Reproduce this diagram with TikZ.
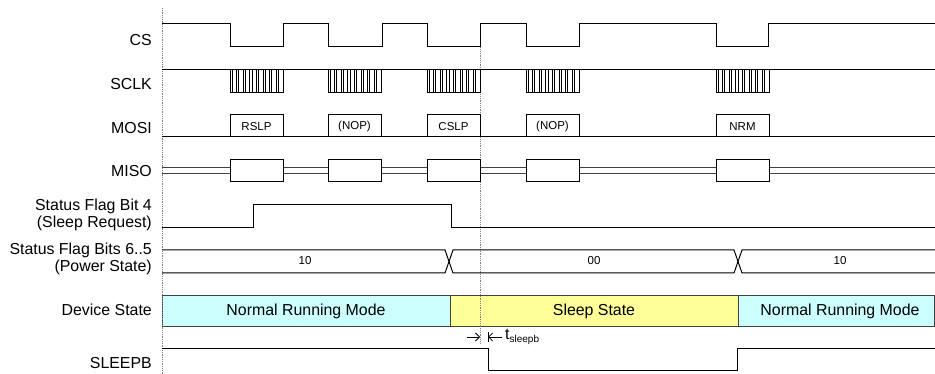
\documentclass[tikz,border=0pt]{standalone}
\usepackage{fontspec}
\setmainfont{Liberation Sans}
\usetikzlibrary{arrows.meta}
\definecolor{cyanfill}{HTML}{CCFFFF}
\definecolor{yelfill}{HTML}{FFFF99}
\definecolor{edge}{HTML}{404040}
\begin{document}
\begin{tikzpicture}[x=1pt,y=-1pt,
  sig/.style={line width=1pt, black},
  sigg/.style={line width=1pt, edge},
  gridline/.style={densely dotted, gray, line width=0.8pt},
  lbl/.style={anchor=east, align=right, font=\fontsize{15.9}{16.5}\selectfont, inner sep=0pt},
  small/.style={font=\fontsize{11.5}{12}\selectfont, inner sep=0pt},
  big/.style={font=\fontsize{15.9}{16}\selectfont, inner sep=0pt},
  clk/.style={line width=0.7pt, black}]
\useasboundingbox (0,0) rectangle (935,374);

% labels
\node[lbl] (lcs) at (152,40) {CS};
\node[lbl] (lsclk) at (152,84) {SCLK};
\node[lbl] (lmosi) at (152,128) {MOSI};
\node[lbl] (lmiso) at (152,171) {MISO};
\node[lbl] (lsf4) at (152,215) {Status Flag Bit 4\\(Sleep Request)};
\node[lbl] (lsf65) at (152,259) {Status Flag Bits 6..5\\(Power State)};
\node[lbl] (ldev) at (152,310) {Device State};
\node[lbl] (lsleep) at (152,363) {SLEEPB};

% device state boxes
\draw[fill=cyanfill, draw=edge, line width=1pt] (162,296) rectangle (450,326);
\draw[fill=yelfill, draw=edge, line width=1pt] (450,296) rectangle (738,326);
\draw[fill=cyanfill, draw=edge, line width=1pt] (738,296) rectangle (934.5,326);
\node[big] (d1) at (306,311) {Normal Running Mode};
\node[big] (d2) at (594,311) {Sleep State};
\node[big] (d3) at (840,311) {Normal Running Mode};

% dotted reference lines
\draw[gridline] (162,8) -- (162,374);
\draw[gridline] (480,24) -- (480,343);

% CS
\draw[sig] (162,24) -| (230,47) -| (283,24) -| (328,47) -| (382,24) -| (427,47) -| (480,24) -| (526,47) -| (579,24) -| (716,47) -| (768,24) -- (935,24);

% SCLK
\draw[sig] (162,70) -- (935,70);
\foreach \s in {230,328,427,526,716} {
  \draw[clk] (\s,70) -- (\s,92) -- (\s+53,92) -- (\s+53,70);
  \foreach \i in {0,...,7} {
    \draw[clk] (\s+\i*6.6,70) -- ++(0,22);
    \draw[clk] (\s+\i*6.6+2.2,70) -- ++(0,22);
  }
}

% MOSI
\draw[sig] (162,137) -- (935,137);
\foreach \s/\t in {230/RSLP,328/(NOP),427/CSLP,526/(NOP),716/NRM} {
  \draw[sig] (\s,115) rectangle (\s+53,137);
  \node[small] (mosi\s) at (\s+26.5,126.5) {\t};
}

% MISO
\draw[sigg] (162,168) -- (935,168);
\draw[sigg] (162,174) -- (935,174);
\foreach \s in {230,328,427,526,716} {
  \draw[sig, fill=white] (\s,160) rectangle (\s+53,182);
}

% Status flag bit 4
\draw[sig] (162,228) -| (253,205) -| (451,228) -- (935,228);

% Status flag bits 6..5
\draw[sig] (162,250) -- (445,250) -- (453,273) -- (734,273) -- (742,250) -- (935,250);
\draw[sig] (162,273) -- (445,273) -- (453,250) -- (734,250) -- (742,273) -- (935,273);
\node[small] (p1) at (305,261) {10};
\node[small] (p2) at (594,261) {00};
\node[small] (p3) at (840,261) {10};

% SLEEPB
\draw[sig] (162,348) -| (488,370) -| (737,348) -- (935,348);

% t_sleepb
\coordinate (ta0) at (467,337);
\coordinate (ta1) at (480,337);
\coordinate (tb0) at (502,337);
\coordinate (tb1) at (488,337);
\draw[line width=0.8pt, -{Straight Barb[length=4pt,width=8pt]}] (ta0) -- (ta1);
\draw[line width=0.8pt, -{Straight Barb[length=4pt,width=8pt]}] (tb0) -- (tb1);
\draw[line width=0.8pt] (488,332) -- (488,342);
\node[anchor=west, inner sep=0pt, font=\fontsize{15.9}{16}\selectfont] (tsl) at (505,337) {t\raisebox{-0.45ex}{\fontsize{10}{10}\selectfont sleepb}};
\end{tikzpicture}
\end{document}
